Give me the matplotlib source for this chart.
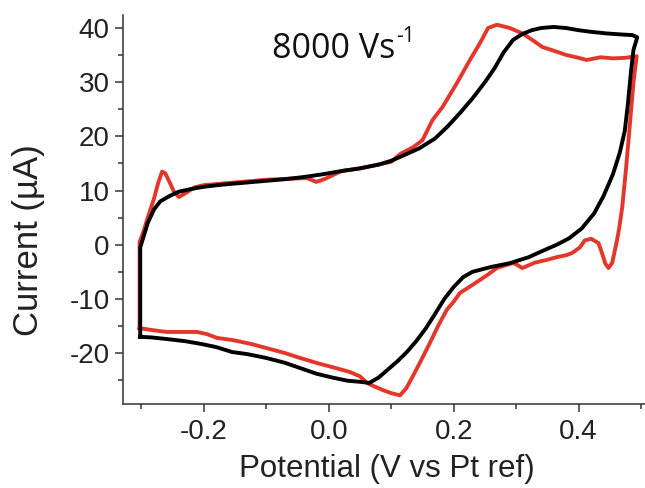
import matplotlib
matplotlib.use("Agg")
import matplotlib.pyplot as plt
from matplotlib.ticker import MultipleLocator

# red trace (potential V, current uA)
red_v = [-0.303, -0.303, -0.298, -0.29, -0.28, -0.273, -0.267, -0.262, -0.256, -0.248,
         -0.24, -0.23, -0.215, -0.2, -0.17, -0.14, -0.1, -0.06, -0.035, -0.02,
         -0.005, 0.02, 0.05, 0.08, 0.1, 0.115, 0.135, 0.15, 0.166, 0.182,
         0.205, 0.226, 0.242, 0.255, 0.269, 0.28, 0.29, 0.3, 0.31, 0.326,
         0.342, 0.358, 0.381, 0.4, 0.413, 0.435, 0.455, 0.475, 0.493,
         0.488, 0.482, 0.476, 0.47, 0.465, 0.461, 0.458, 0.454, 0.448, 0.443,
         0.438, 0.432, 0.42, 0.41, 0.402, 0.39, 0.381, 0.365, 0.349, 0.33,
         0.31, 0.3, 0.294, 0.28, 0.269, 0.255, 0.242, 0.225, 0.21, 0.2,
         0.189, 0.175, 0.162, 0.148, 0.134, 0.124, 0.114, 0.1, 0.086, 0.07,
         0.061, 0.05, 0.034, 0.006, -0.02, -0.046, -0.07, -0.099, -0.125, -0.154,
         -0.179, -0.195, -0.211, -0.235, -0.259, -0.28, -0.303]
red_i = [-15.4, 0.5, 2, 5, 8.5, 11.5, 13.5, 13.2, 11.8, 9.8,
         8.8, 9.5, 10.6, 11, 11.3, 11.6, 12, 12.2, 12.3, 11.6,
         12.2, 13.6, 14.1, 14.8, 15.3, 16.8, 18, 19.3, 23, 25.4,
         29.8, 34.1, 37.2, 40, 40.6, 40.3, 40, 39.5, 39, 37.8,
         36.5, 35.9, 35, 34.5, 34.1, 34.6, 34.4, 34.5, 34.8,
         30, 22, 14, 7, 3, 0.5, -1.1, -3.3, -4.3, -3.5,
         -1.7, 0.3, 1.1, 0.8, -0.5, -1.5, -1.9, -2.3, -2.8, -3.3,
         -4.3, -3.6, -3.4, -3.9, -4.3, -5.5, -6.5, -7.8, -8.9, -10.5,
         -12, -15, -18.1, -21.3, -24.4, -26.5, -27.8, -27.4, -26.8, -26,
         -25.5, -24.3, -23.5, -22.6, -21.8, -20.9, -20, -19.1, -18.3, -17.6,
         -17.2, -16.5, -16.1, -16.1, -16.1, -15.8, -15.4]

# black trace
black_v = [-0.302, -0.302, -0.298, -0.29, -0.28, -0.27, -0.255, -0.24, -0.22, -0.2,
           -0.17, -0.14, -0.1, -0.07, -0.04, -0.01, 0.02, 0.05, 0.08, 0.1,
           0.12, 0.145, 0.17, 0.19, 0.21, 0.23, 0.25, 0.265, 0.28, 0.295,
           0.31, 0.325, 0.34, 0.36, 0.38, 0.4, 0.42, 0.445, 0.47, 0.486, 0.494,
           0.488, 0.484, 0.479, 0.474, 0.466, 0.455, 0.44, 0.425, 0.405, 0.385,
           0.365, 0.345, 0.32, 0.29, 0.26, 0.23, 0.215, 0.2, 0.185, 0.17,
           0.155, 0.14, 0.125, 0.11, 0.095, 0.08, 0.065, 0.05, 0.03, 0.005,
           -0.02, -0.045, -0.07, -0.1, -0.13, -0.155, -0.18, -0.205, -0.23, -0.26,
           -0.285, -0.302]
black_i = [-17, -0.5, 1, 4, 6.5, 8, 9, 9.8, 10.3, 10.7,
           11.1, 11.4, 11.8, 12.1, 12.5, 13, 13.6, 14.1, 14.8, 15.5,
           16.5, 17.8, 19.6, 21.8, 24.3, 27, 30, 32.5, 35.5, 37.8,
           38.9, 39.6, 40, 40.2, 40, 39.6, 39.3, 39, 38.8, 38.7, 38.3,
           36, 32, 26, 21, 17, 13, 9, 5.8, 3, 1.2,
           0, -1, -2.3, -3.4, -4.1, -5, -6, -7.8, -10, -12.8,
           -15.5, -17.8, -19.8, -21.5, -23, -24.5, -25.5, -25.3, -25.1, -24.5,
           -23.8, -22.8, -21.8, -20.9, -20.2, -19.8, -18.9, -18.3, -17.8, -17.4,
           -17.1, -17]

fig = plt.figure(figsize=(6.45, 4.88), dpi=100)
ax = fig.add_axes([0.1907, 0.1721, 0.8093, 0.7971])

ax.plot(red_v, red_i, color="#e4372c", lw=2.8, solid_joinstyle="round")
ax.plot(black_v, black_i, color="black", lw=2.8, solid_joinstyle="round")

ax.set_xlim(-0.3296, 0.5064)
ax.set_ylim(-29.4, 42.4)

for s in ["top", "right"]:
    ax.spines[s].set_visible(False)
for s in ["left", "bottom"]:
    ax.spines[s].set_linewidth(1.1)
    ax.spines[s].set_color("#333333")

ax.xaxis.set_minor_locator(MultipleLocator(0.1))
ax.yaxis.set_minor_locator(MultipleLocator(5))
ax.set_xticks([-0.2, 0.0, 0.2, 0.4])
ax.set_xticklabels(["-0.2", "0.0", "0.2", "0.4"])
ax.set_yticks([-20, -10, 0, 10, 20, 30, 40])
ax.set_yticklabels(["-20", "-10", "0", "10", "20", "30", "40"])

ax.tick_params(which="major", length=5.5, width=1.1, color="#333333", direction="out",
               labelsize=20)
ax.tick_params(axis="x", which="major", pad=5)
ax.tick_params(axis="y", which="major", pad=4)
ax.tick_params(which="minor", length=3.5, width=1.1, color="#333333", direction="out")
for lab in ax.get_xticklabels() + ax.get_yticklabels():
    lab.set_family("Liberation Sans")
    lab.set_color("#222222")

ax.set_xlabel("Potential (V vs Pt ref)", fontsize=22.5, family="Liberation Sans",
              color="#222222")
ax.xaxis.set_label_coords(0.506, -0.128)
ax.set_ylabel("Current (µA)", fontsize=25, family="Liberation Sans",
              color="#222222")
ax.yaxis.set_label_coords(-0.149, 0.4216)

ax.text(-0.091, 34.5, "8000 Vs", fontsize=24.5, family="Open Sans", color="#111111",
        va="baseline", ha="left")
ax.text(0.108, 37.4, "-1", fontsize=15, family="Open Sans", color="#111111",
        va="baseline", ha="left")

fig.savefig("out.png", dpi=100)
